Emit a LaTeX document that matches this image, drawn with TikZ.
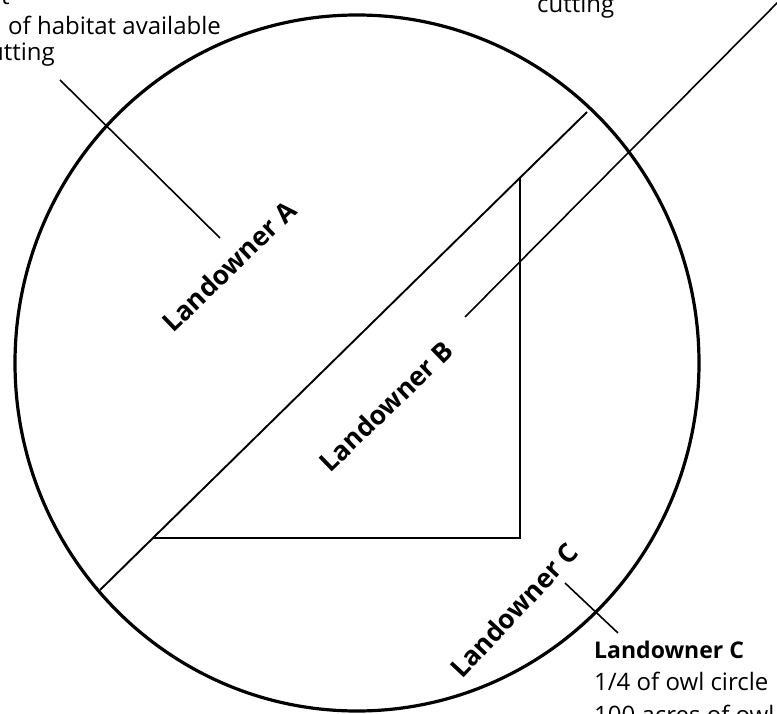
\documentclass[tikz,border=0pt]{standalone}
\usepackage{fontspec}
\setmainfont{Open Sans}
\usetikzlibrary{positioning}
\tikzset{
  parcel/.style={font=\bfseries\fontsize{26.5}{30}\selectfont, inner sep=0pt, rotate=44},
  note/.style={font=\fontsize{24}{32}\selectfont, inner sep=0pt, anchor=base west},
  edge/.style={line width=1.9pt},
  leader/.style={line width=1.6pt}
}
\begin{document}
\begin{tikzpicture}[x=1pt,y=-1pt]
\useasboundingbox (0,0) rectangle (777,714);
\clip (0,0) rectangle (777,714);
% ---- owl circle ----
\draw[line width=3.2pt] (357,363) ellipse [x radius=342, y radius=348];
% ---- ownership lines ----
\coordinate (sw) at (100,590);
\coordinate (ne) at (587,112);
\coordinate (top) at (520,178);
\coordinate (rc) at (520,538);
\coordinate (lc) at (153,538);
\draw[edge] (sw) -- (ne);
\draw[edge] (top) -- (rc) -- (lc);
% ---- parcel labels ----
\node[parcel] (lA) at (229,266) {Landowner A};
\node[parcel] (lB) at (386,406) {Landowner B};
\node[parcel,rotate=3] (lC) at (514,610) {Landowner C};
% ---- callouts (cropped at the edges) ----
\node[note] (tl1) at (1,5) {t};
\node[note] (tl2) at (8,35) {of habitat available};
\node[note, anchor=base east] (tl3) at (55,61) {cutting};
\node[note] (tr) at (537,13) {cutting};
\node[note, font=\bfseries\fontsize{23}{32}\selectfont] (br1) at (594,658) {Landowner C};
\node[note] (br2) at (594,690) {1/4 of owl circle};
\node[note] (br3) at (594,723) {100 acres of owl};
% ---- leader lines ----
\coordinate (aIn) at (220,238); \coordinate (aOut) at (60,80);
\coordinate (bIn) at (465,317); \coordinate (bOut) at (790,-10);
\coordinate (cIn) at (565,583); \coordinate (cOut) at (618,633);
\draw[leader] (aOut) -- (aIn);
\draw[leader] (bIn) -- (bOut);
\draw[leader] (cIn) -- (cOut);
\end{tikzpicture}
\end{document}
